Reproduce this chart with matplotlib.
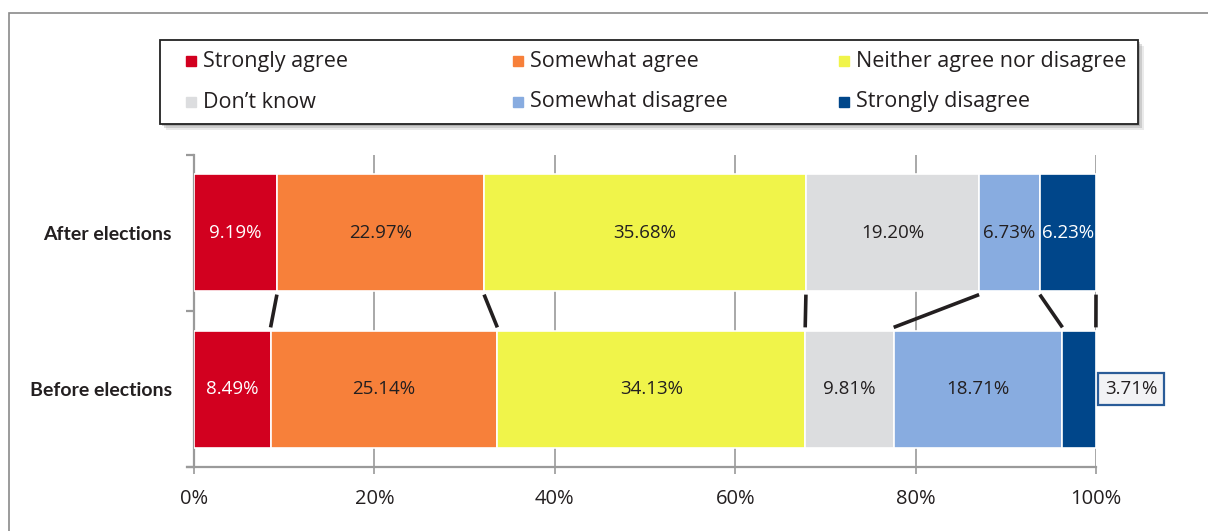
import matplotlib.pyplot as plt
from matplotlib.patches import Rectangle
from matplotlib.lines import Line2D

# data
groups = ["Before elections", "After elections"]
categories = ["Strongly agree", "Somewhat agree", "Neither agree nor disagree",
              "Don\u2019t know", "Somewhat disagree", "Strongly disagree"]
after = [9.19, 22.97, 35.68, 19.20, 6.73, 6.23]
before = [8.49, 25.14, 34.13, 9.81, 18.71, 3.71]
colors = ["#D2001F", "#F7803A", "#F0F44A", "#DCDDDF", "#88ACE0", "#00468A"]
label_colors = ["white", "#231F20", "#231F20", "#231F20", "#231F20", "white"]
xticks = [0, 20, 40, 60, 80, 100]
xtick_labels = ["0%", "20%", "40%", "60%", "80%", "100%"]

W, H = 1208, 531
fig = plt.figure(figsize=(W / 100, H / 100), dpi=100)


def fx(px):
    return px / W


def fy(py):
    return 1 - py / H


font = "Open Sans"
dark = "#231F20"

# outer frame
fig.patches.append(Rectangle((fx(9), fy(600)), fx(1300), fy(13) - fy(600),
                             transform=fig.transFigure, fill=False,
                             edgecolor="#8a8a8a", lw=1.2))

# axes
ax = fig.add_axes([fx(194), fy(467), fx(1096) - fx(194), fy(155) - fy(467)])
ax.set_xlim(0, 100)
ax.set_ylim(-0.5, 1.5)

bh = 0.75
rows = [before, after]
for yi, vals in enumerate(rows):
    left = 0
    for i, v in enumerate(vals):
        ax.barh(yi, v, left=left, height=bh, color=colors[i],
                edgecolor="white", lw=1.2, zorder=3)
        if not (yi == 0 and i == 5):
            ax.text(left + v / 2, yi, f"{v:.2f}%", ha="center", va="center",
                    color=label_colors[i], fontsize=13.5, family=font, zorder=4)
        left += v

# small value shown in a callout box
ax.annotate(f"{before[5]:.2f}%", xy=(100, 0), xytext=(101.0, 0),
            ha="left", va="center", fontsize=13.5, family=font, color=dark,
            bbox=dict(boxstyle="square,pad=0.35", fc="#F2F3F5", ec="#2A5C98", lw=1.6),
            zorder=5, annotation_clip=False)

# connectors between cumulative boundaries
ca, cb = 0, 0
for i in range(len(categories)):
    ca += after[i]
    cb += before[i]
    ax.plot([ca, cb], [1 - bh / 2 - 0.02, bh / 2 + 0.02], color=dark, lw=2.6,
            solid_capstyle="butt", zorder=4, clip_on=False)

# axes styling
for s in ["top", "right"]:
    ax.spines[s].set_visible(False)
for s in ["left", "bottom"]:
    ax.spines[s].set_color("#9a9a9a")
    ax.spines[s].set_linewidth(1.6)
ax.spines["bottom"].set_bounds(-0.8, 100)

ax.set_xticks(xticks)
ax.set_xticklabels(xtick_labels, family=font, fontsize=14.5, color=dark)
ax.tick_params(axis="x", length=5, width=1.2, color="#9a9a9a", pad=11)
ax.grid(axis="x", color="#9a9a9a", lw=1.2, zorder=0)

ax.set_yticks([0, 1])
ax.set_yticklabels(groups, fontsize=14, fontweight="bold", color=dark,
                   family=["Lato", "DejaVu Sans"])
ax.set_yticks([-0.5, 0.5, 1.5], minor=True)
ax.tick_params(axis="y", which="major", length=0, pad=16)
ax.tick_params(axis="y", which="minor", length=6, width=1.6, color="#9a9a9a")

# legend box with shadow
lx0, ly0, lx1, ly1 = 160, 40, 1138, 124
for k, a in [(6, 0.15), (4, 0.25), (2, 0.35)]:
    fig.patches.append(Rectangle((fx(lx0 + k), fy(ly1 + k)), fx(lx1 - lx0), fy(ly0) - fy(ly1),
                                 transform=fig.transFigure, fc="#777777", ec="none",
                                 alpha=a, zorder=1))
fig.patches.append(Rectangle((fx(lx0), fy(ly1)), fx(lx1 - lx0), fy(ly0) - fy(ly1),
                             transform=fig.transFigure, fc="white", ec="#222222",
                             lw=1.3, zorder=2))
for i, name in enumerate(categories):
    col, row = i % 3, i // 3
    mx = 191 + col * 326.5
    my = 61 + row * 41
    fig.add_artist(Line2D([fx(mx)], [fy(my)], marker="s", ms=7.5, color=colors[i],
                          transform=fig.transFigure, zorder=3))
    fig.text(fx(mx + 12), fy(my), name, ha="left", va="center", fontsize=15.5,
             family=font, color=dark, zorder=3)

fig.savefig("out.png", dpi=100)
